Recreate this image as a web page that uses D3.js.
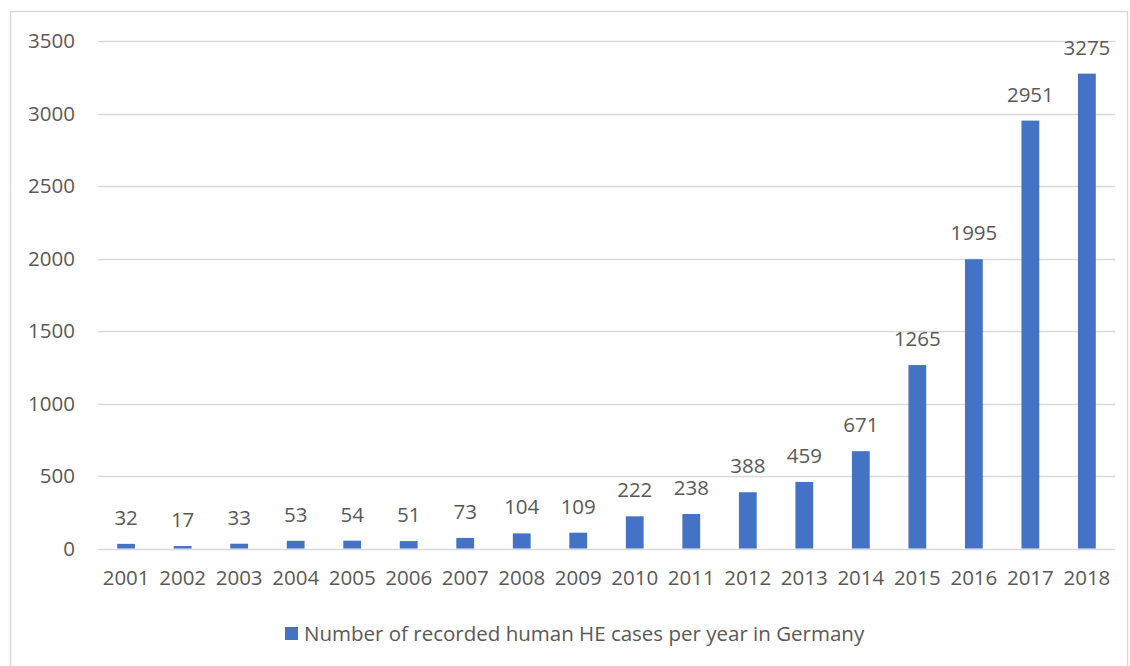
<!DOCTYPE html>
<html>
<head>
<meta charset="utf-8">
<script src="https://cdn.jsdelivr.net/npm/d3@7"></script>
<style>
  html, body { margin: 0; padding: 0; background: #fff; }
  text { font-family: "Open Sans", "Noto Sans", sans-serif; fill: #595959; }
</style>
</head>
<body>
<div id="chart"></div>
<script>
// chart data
const years = ['2001', '2002', '2003', '2004', '2005', '2006', '2007', '2008', '2009',
  '2010', '2011', '2012', '2013', '2014', '2015', '2016', '2017', '2018'];
const cases = [32, 17, 33, 53, 54, 51, 73, 104, 109, 222, 238, 388, 459, 671, 1265, 1995, 2951, 3275];
const yTicks = [0, 500, 1000, 1500, 2000, 2500, 3000, 3500];
const seriesName = 'Number of recorded human HE cases per year in Germany';

const width = 1130;
const height = 666;
const margin = {top: 41, right: 15, bottom: 117, left: 98};
const barColor = '#4472C4';
const gridColor = '#D9D9D9';
const fontSize = 20.5;

const svg = d3.select('#chart')
  .append('svg')
  .attr('width', width)
  .attr('height', height);

// outer frame
svg.append('rect')
  .attr('x', 10.5).attr('y', 11.5)
  .attr('width', 1117).attr('height', 670)
  .attr('fill', 'none')
  .attr('stroke', gridColor)
  .attr('stroke-width', 1.5);

const x = d3.scaleBand()
  .domain(years)
  .range([margin.left, width - margin.right])
  .paddingInner(0.685)
  .paddingOuter(0.34);

const y = d3.scaleLinear()
  .domain([0, 3500])
  .range([height - margin.bottom - 0.5, margin.top]);

// gridlines
svg.append('g')
  .selectAll('line')
  .data(yTicks)
  .join('line')
  .attr('x1', margin.left)
  .attr('x2', width - margin.right)
  .attr('y1', d => Math.round(y(d)) + 0.5)
  .attr('y2', d => Math.round(y(d)) + 0.5)
  .attr('stroke', gridColor)
  .attr('stroke-width', 1.3);

// y axis labels
const yAxis = d3.axisLeft(y).tickValues(yTicks).tickFormat(d3.format('d')).tickSize(0).tickPadding(0);
svg.append('g')
  .attr('transform', 'translate(' + 75 + ',0)')
  .call(yAxis)
  .call(g => g.select('.domain').remove())
  .call(g => g.selectAll('text')
    .attr('font-size', fontSize)
    .attr('fill', '#595959')
    .attr('font-family', '"Open Sans", sans-serif'));

// x axis labels
const xAxis = d3.axisBottom(x).tickSize(0).tickPadding(0);
svg.append('g')
  .attr('transform', 'translate(0,' + (y(0) + 22) + ')')
  .call(xAxis)
  .call(g => g.select('.domain').remove())
  .call(g => g.selectAll('text')
    .attr('font-size', fontSize)
    .attr('fill', '#595959')
    .attr('font-family', '"Open Sans", sans-serif'));

// bars
svg.append('g')
  .selectAll('rect')
  .data(cases)
  .join('rect')
  .attr('x', (d, i) => x(years[i]))
  .attr('y', d => y(d))
  .attr('width', x.bandwidth())
  .attr('height', d => y(0) - y(d))
  .attr('fill', barColor);

// value labels
svg.append('g')
  .selectAll('text')
  .data(cases)
  .join('text')
  .attr('x', (d, i) => x(years[i]) + x.bandwidth() / 2)
  .attr('y', d => y(d) - 19)
  .attr('text-anchor', 'middle')
  .attr('font-size', fontSize)
  .text(d => d);

// legend
const legend = svg.append('g').attr('transform', 'translate(285,627)');
legend.append('rect')
  .attr('width', 13).attr('height', 13)
  .attr('fill', barColor);
legend.append('text')
  .attr('x', 19)
  .attr('y', 14)
  .attr('font-size', fontSize)
  .text(seriesName);
</script>
</body>
</html>
